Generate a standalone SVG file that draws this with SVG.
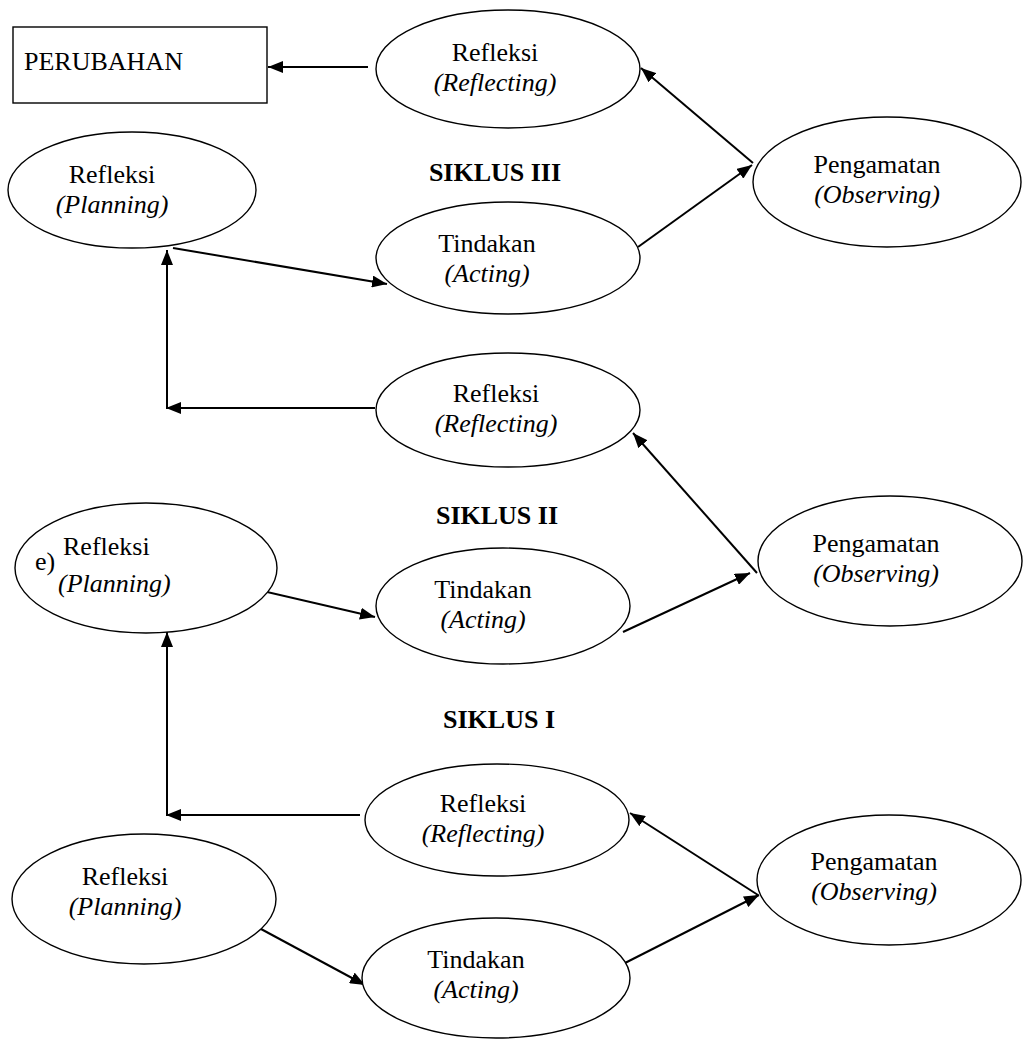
<svg xmlns="http://www.w3.org/2000/svg" width="1023" height="1039" viewBox="0 0 1023 1039">
<style>
  .node ellipse, .node rect { fill: #fff; stroke: #000; stroke-width: 1.4; }
  text { font-family: "Liberation Serif", "Times New Roman", serif; font-size: 26px; fill: #000; }
  .c { text-anchor: middle; }
  .i { font-style: italic; }
  .b { font-weight: bold; }
  #connectors line, #connectors path { stroke: #000; stroke-width: 2; fill: none; }
</style>
<defs>
  <marker id="arr" markerUnits="userSpaceOnUse" markerWidth="16" markerHeight="12" refX="15" refY="6" orient="auto">
    <path d="M0,0 L15,6 L0,12 z" fill="#000"/>
  </marker>
</defs>
<rect width="1023" height="1039" fill="#fff"/>

<g id="connectors">
  <line x1="368" y1="67" x2="268" y2="67" marker-end="url(#arr)"/>
  <line x1="753" y1="163" x2="641" y2="68" marker-end="url(#arr)"/>
  <line x1="638" y1="247" x2="752" y2="165" marker-end="url(#arr)"/>
  <line x1="173" y1="248" x2="387" y2="284" marker-end="url(#arr)"/>
  <line x1="375" y1="408" x2="166" y2="408" marker-end="url(#arr)"/>
  <line x1="167" y1="409" x2="167" y2="250" marker-end="url(#arr)"/>
  <line x1="757" y1="573" x2="633" y2="433" marker-end="url(#arr)"/>
  <line x1="623" y1="632" x2="750" y2="573" marker-end="url(#arr)"/>
  <line x1="254" y1="589" x2="375" y2="617" marker-end="url(#arr)"/>
  <line x1="360" y1="815" x2="166" y2="815" marker-end="url(#arr)"/>
  <line x1="167" y1="816" x2="167" y2="632" marker-end="url(#arr)"/>
  <line x1="758" y1="895" x2="630" y2="813" marker-end="url(#arr)"/>
  <line x1="625" y1="963" x2="759" y2="895" marker-end="url(#arr)"/>
  <line x1="261" y1="929" x2="365" y2="985" marker-end="url(#arr)"/>
</g>

<g id="perubahan" class="node">
  <rect x="13" y="27" width="254" height="76"/>
  <text x="24" y="70">PERUBAHAN</text>
</g>

<g id="refleksi3" class="node">
  <ellipse cx="508" cy="69" rx="132" ry="59"/>
  <text class="c" x="495" y="61">Refleksi</text>
  <text class="c i" x="495" y="91">(Reflecting)</text>
</g>

<g id="pengamatan3" class="node">
  <ellipse cx="887" cy="182" rx="134" ry="65"/>
  <text class="c" x="877" y="173">Pengamatan</text>
  <text class="c i" x="877" y="203">(Observing)</text>
</g>

<g id="planning3" class="node">
  <ellipse cx="132" cy="190" rx="124" ry="58"/>
  <text class="c" x="112" y="183">Refleksi</text>
  <text class="c i" x="112" y="213">(Planning)</text>
</g>

<g id="tindakan3" class="node">
  <ellipse cx="508" cy="258" rx="132" ry="56"/>
  <text class="c" x="487" y="252">Tindakan</text>
  <text class="c i" x="487" y="282">(Acting)</text>
</g>

<g id="siklus3">
  <text class="c b" x="495" y="181">SIKLUS III</text>
</g>

<g id="refleksi2" class="node">
  <ellipse cx="508" cy="410" rx="132" ry="57"/>
  <text class="c" x="496" y="402">Refleksi</text>
  <text class="c i" x="496" y="432">(Reflecting)</text>
</g>

<g id="siklus2">
  <text class="c b" x="497" y="524">SIKLUS II</text>
</g>

<g id="planning2" class="node">
  <ellipse cx="146" cy="568" rx="131" ry="65"/>
  <text x="35" y="570">e)</text>
  <text x="63" y="555">Refleksi</text>
  <text class="i" x="58" y="592">(Planning)</text>
</g>

<g id="tindakan2" class="node">
  <ellipse cx="503" cy="606" rx="127" ry="58"/>
  <text class="c" x="483" y="598">Tindakan</text>
  <text class="c i" x="483" y="628">(Acting)</text>
</g>

<g id="pengamatan2" class="node">
  <ellipse cx="890" cy="561" rx="132" ry="65"/>
  <text class="c" x="876" y="552">Pengamatan</text>
  <text class="c i" x="876" y="582">(Observing)</text>
</g>

<g id="siklus1">
  <text class="c b" x="499" y="728">SIKLUS I</text>
</g>

<g id="refleksi1" class="node">
  <ellipse cx="497" cy="820" rx="132" ry="56"/>
  <text class="c" x="483" y="812">Refleksi</text>
  <text class="c i" x="483" y="842">(Reflecting)</text>
</g>

<g id="planning1" class="node">
  <ellipse cx="144" cy="899" rx="132" ry="65"/>
  <text class="c" x="125" y="885">Refleksi</text>
  <text class="c i" x="125" y="915">(Planning)</text>
</g>

<g id="tindakan1" class="node">
  <ellipse cx="496" cy="978" rx="134" ry="60"/>
  <text class="c" x="476" y="968">Tindakan</text>
  <text class="c i" x="476" y="998">(Acting)</text>
</g>

<g id="pengamatan1" class="node">
  <ellipse cx="889" cy="880" rx="132" ry="65"/>
  <text class="c" x="874" y="870">Pengamatan</text>
  <text class="c i" x="874" y="900">(Observing)</text>
</g>
</svg>
